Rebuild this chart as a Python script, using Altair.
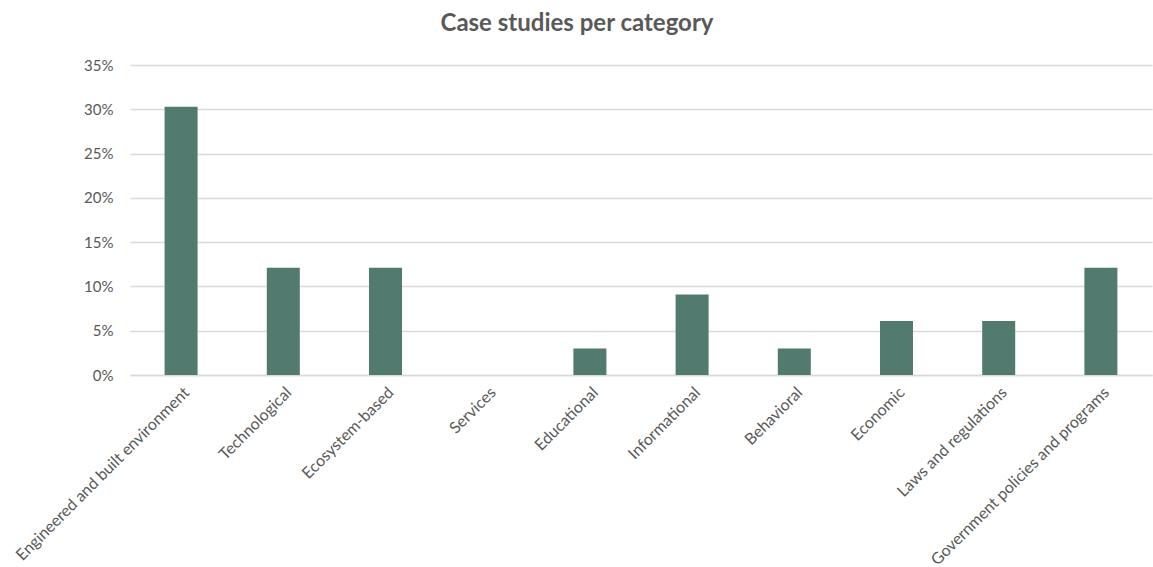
import altair as alt
import pandas as pd

categories = [
    "Engineered and built environment",
    "Technological",
    "Ecosystem-based",
    "Services",
    "Educational",
    "Informational",
    "Behavioral",
    "Economic",
    "Laws and regulations",
    "Government policies and programs",
]
shares = [0.303, 0.121, 0.121, 0.0, 0.030, 0.091, 0.030, 0.061, 0.061, 0.121]
y_ticks = [0, 0.05, 0.10, 0.15, 0.20, 0.25, 0.30, 0.35]

df = pd.DataFrame({"category": categories, "share": shares})

FONT = "Lato"
GREY = "#595959"

chart = (
    alt.Chart(df)
    .mark_bar(color="#527A6E")
    .encode(
        x=alt.X(
            "category:N",
            sort=categories,
            title=None,
            scale=alt.Scale(paddingInner=0.677, paddingOuter=0.3385),
            axis=alt.Axis(
                labelAngle=-45,
                labelFont=FONT,
                labelFontSize=16,
                labelColor=GREY,
                ticks=False,
                domainColor="#D9D9D9",
                domainWidth=1.3,
                labelPadding=9,
                labelLimit=400,
            ),
        ),
        y=alt.Y(
            "share:Q",
            title=None,
            scale=alt.Scale(domain=[0, 0.35], nice=False),
            axis=alt.Axis(
                values=y_ticks,
                format=".0%",
                domain=False,
                ticks=False,
                labelFont=FONT,
                labelFontSize=15,
                labelColor=GREY,
                labelPadding=17,
                gridColor="#D9D9D9",
                gridWidth=1.3,
            ),
        ),
    )
    .properties(
        width=1022,
        height=310,
        title=alt.TitleParams(
            "Case studies per category",
            font=FONT,
            fontSize=24,
            fontWeight="bold",
            color=GREY,
            anchor="middle",
            dx=-64,
            offset=22,
        ),
        autosize=alt.AutoSizeParams(type="none"),
        padding={"left": 130, "top": 65, "right": 1, "bottom": 192},
    )
    .configure_view(stroke=None)
)

chart.save("out.html", embed_options={"renderer": "svg", "actions": False})
